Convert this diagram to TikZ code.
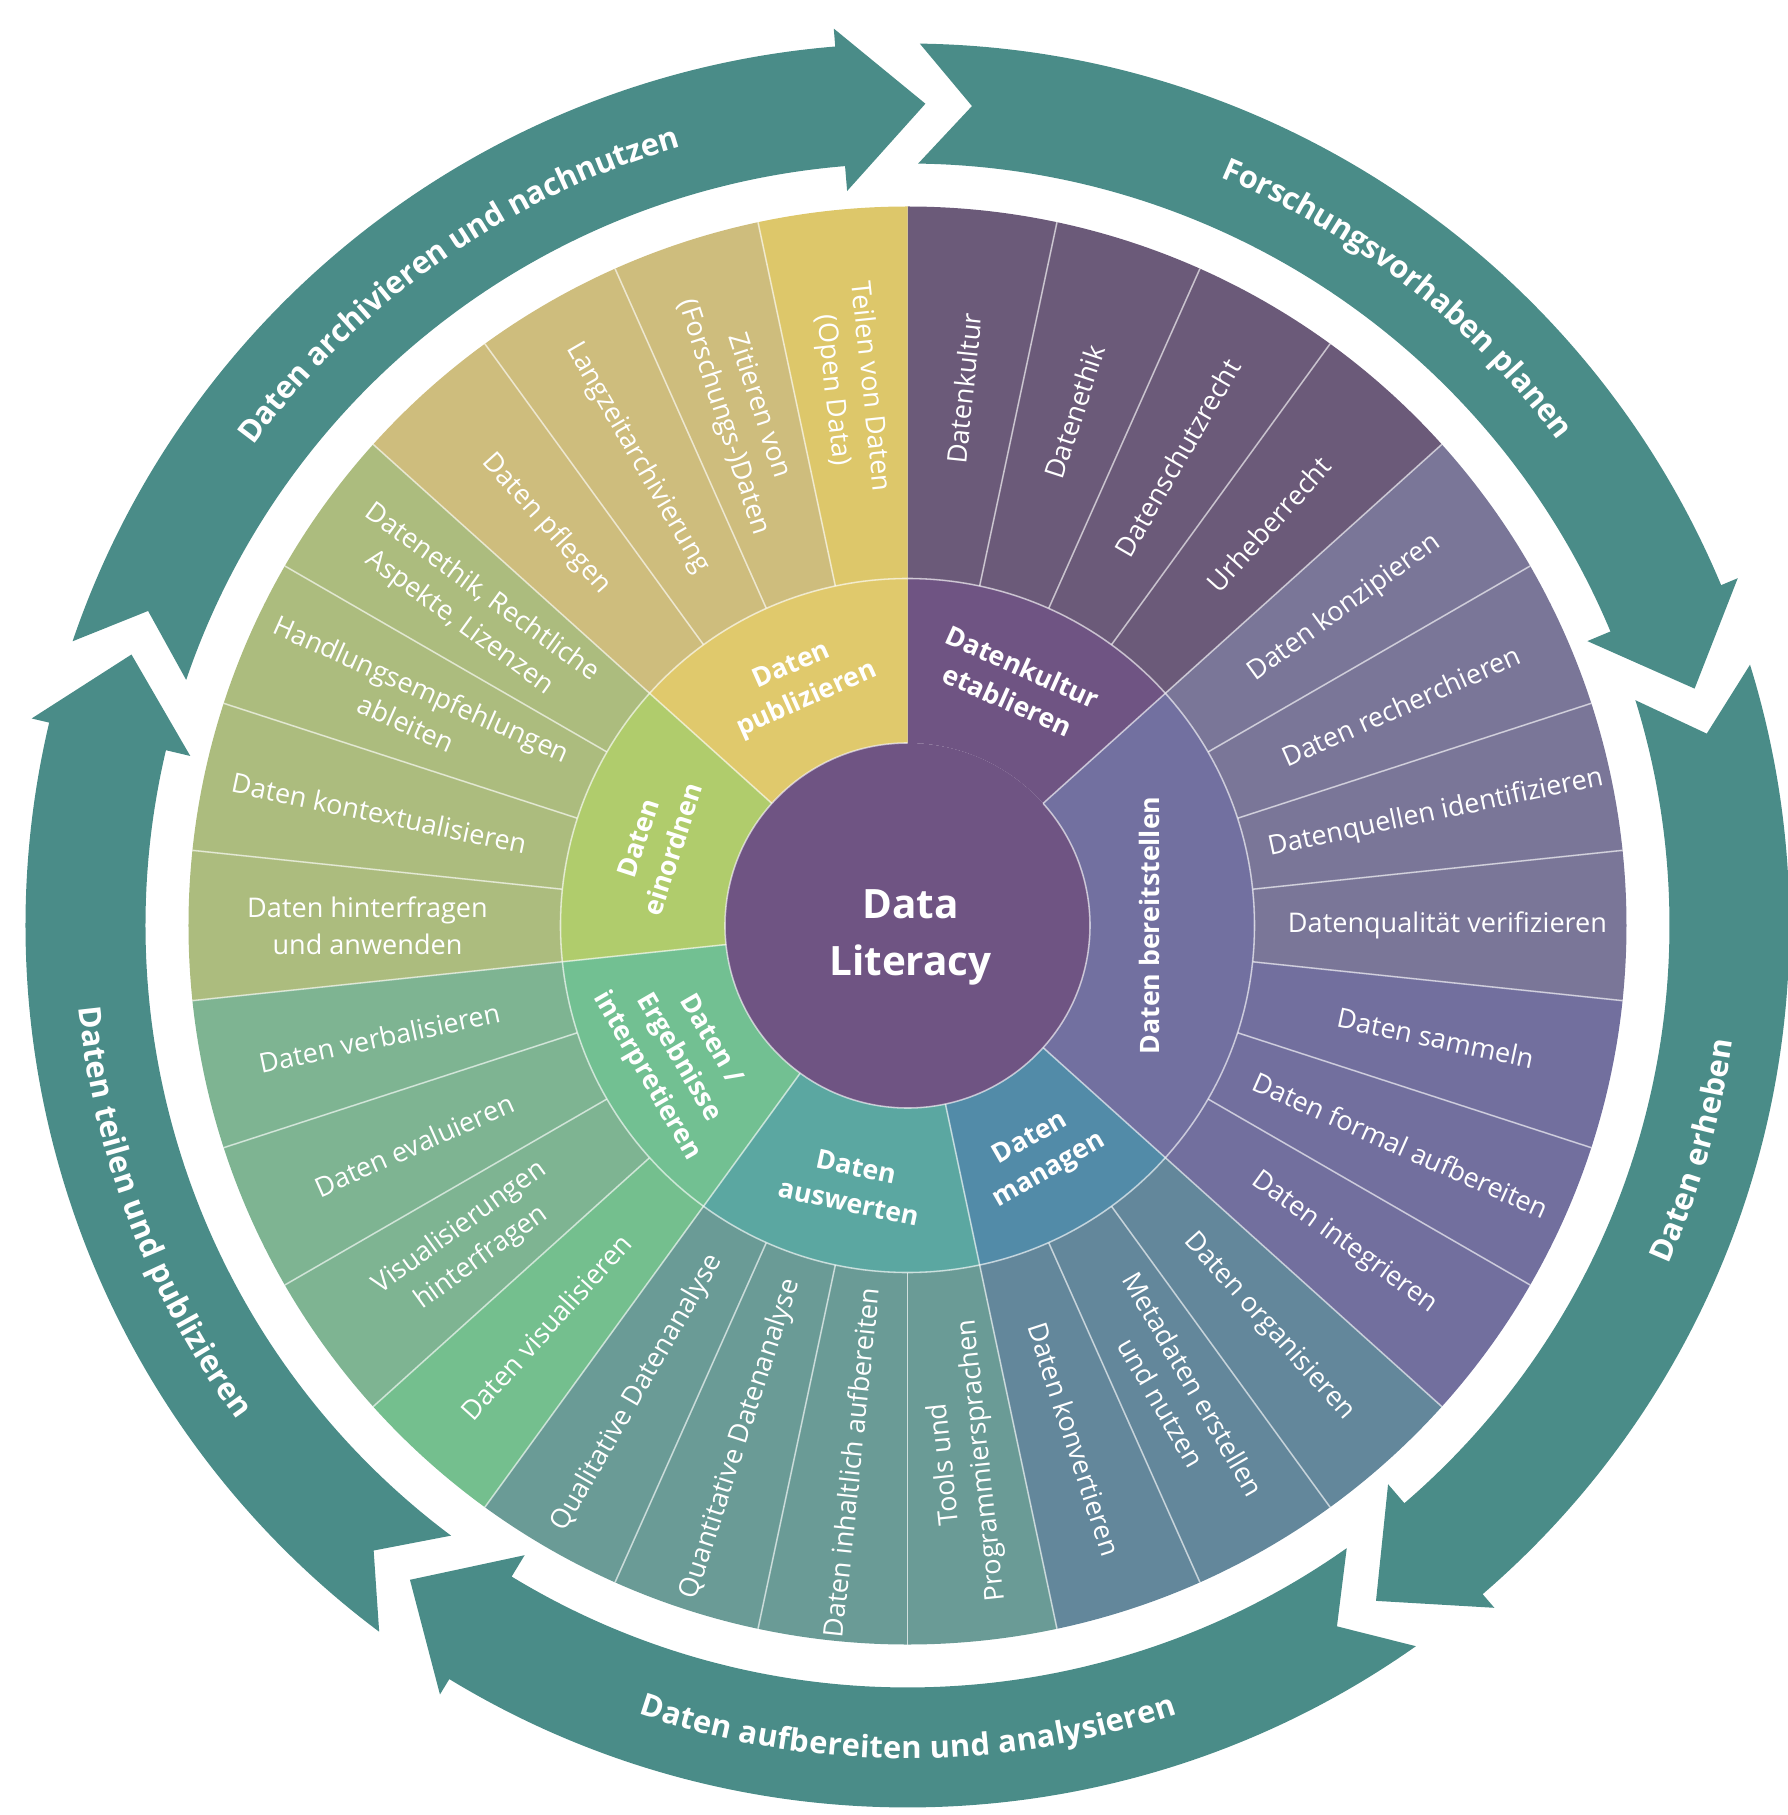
\documentclass[tikz,border=0pt]{standalone}
\usepackage{fontspec}
\setmainfont{Open Sans}
\usetikzlibrary{decorations.text}
\definecolor{kultur}{HTML}{6F5483}
\definecolor{kulturI}{HTML}{6B5A79}
\definecolor{bereit}{HTML}{7270A0}
\definecolor{bereitI}{HTML}{7A7698}
\definecolor{bereitII}{HTML}{726F9E}
\definecolor{manag}{HTML}{528BA8}
\definecolor{managI}{HTML}{63879B}
\definecolor{ausw}{HTML}{5BA7A1}
\definecolor{auswI}{HTML}{6A9B96}
\definecolor{interp}{HTML}{72C092}
\definecolor{interpI}{HTML}{7EB492}
\definecolor{interpV}{HTML}{74BF8E}
\definecolor{einord}{HTML}{B0CC6C}
\definecolor{einordI}{HTML}{ACBC7E}
\definecolor{publ}{HTML}{E0C96C}
\definecolor{publI}{HTML}{CEBD7D}
\definecolor{publV}{HTML}{DDC76A}
\definecolor{pfeilgruen}{HTML}{4A8C88}
\tikzset{
  eintrag/.style={text=white,align=center,inner sep=0pt,font=\fontsize{7.7}{10.6}\selectfont},
  bereich/.style={text=white,align=center,inner sep=0pt,font=\bfseries\fontsize{7.6}{10.4}\selectfont},
  mitte/.style={text=white,align=center,inner sep=0pt,font=\bfseries\fontsize{11.5}{16}\selectfont},
  fuge/.style={draw=white,draw opacity=.6,line width=.45pt},
  pfeil/.style={fill=pfeilgruen},
  bogentext/.style={decorate,decoration={text along path,text={|\pfeilfont|#1},
    text align=center,text color=white,raise=-3.1pt}},
}
\newcommand\pfeilfont{\bfseries\fontsize{8.8}{10}\selectfont}

\begin{document}
\begin{tikzpicture}[x=0.01cm,y=0.01cm]
  \useasboundingbox (-907.5,-889.5) rectangle (880.5,925.5);
  % Pfeilring
  \foreach \T in {89.2,17.2,-54.8,-126.8,-198.8} {
    \fill[pfeil] (\T:882) arc[start angle=\T,end angle=\T-66.5,radius=882]
      -- ({\T-66.5}:900) -- ({\T-72.45}:822) -- ({\T-66.5}:737) -- ({\T-66.5}:762)
      arc[start angle=\T-66.5,end angle=\T,radius=762] -- ({\T-3.7}:822) -- cycle;
  }
  \path[bogentext={Forschungsvorhaben planen}] (97:822) arc[start angle=97,end angle=7,radius=822];
  \path[bogentext={Daten erheben}] (-61:822) arc[start angle=-61,end angle=29,radius=822];
  \path[bogentext={Daten aufbereiten und analysieren}] (-135:822) arc[start angle=-135,end angle=-45,radius=822];
  \path[bogentext={Daten teilen und publizieren}] (-204:822) arc[start angle=-204,end angle=-114,radius=822];
  \path[bogentext={Daten archivieren und nachnutzen}] (170:822) arc[start angle=170,end angle=80,radius=822];
  % Teilkompetenzen
  \foreach \i/\farbe/\txt in {0/kulturI/Datenkultur, 1/kulturI/Datenethik, 2/kulturI/Datenschutzrecht,
      3/kulturI/Urheberrecht, 4/bereitI/Daten konzipieren, 5/bereitI/Daten recherchieren,
      6/bereitI/Datenquellen identifizieren, 7/bereitI/Datenqualität verifizieren,
      8/bereitII/Daten sammeln, 9/bereitII/Daten formal aufbereiten, 10/bereitII/Daten integrieren,
      11/managI/Daten organisieren, 12/managI/{Metadaten erstellen\\und nutzen},
      13/managI/Daten konvertieren, 14/auswI/{Tools und\\Programmiersprachen},
      15/auswI/Daten inhaltlich aufbereiten, 16/auswI/Quantitative Datenanalyse,
      17/auswI/Qualitative Datenanalyse, 18/interpV/Daten visualisieren,
      19/interpI/{Visualisierungen\\hinterfragen}, 20/interpI/Daten evaluieren,
      21/interpI/Daten verbalisieren, 22/einordI/{Daten hinterfragen\\und anwenden},
      23/einordI/Daten kontextualisieren, 24/einordI/{Handlungsempfehlungen\\ableiten},
      25/einordI/{Datenethik, Rechtliche\\Aspekte, Lizenzen}, 26/publI/Daten pflegen,
      27/publI/Langzeitarchivierung, 28/publI/{Zitieren von\\(Forschungs-)Daten},
      29/publV/{Teilen von Daten\\(Open Data)}} {
    \pgfmathsetmacro\a{84-12*\i}
    \pgfmathsetmacro\rot{\i<14 ? \a : \a+180}
    \fill[\farbe] ({\a+6}:347) arc[start angle=\a+6,end angle=\a-6,radius=347]
      -- ({\a-6}:719) arc[start angle=\a-6,end angle=\a+6,radius=719] -- cycle;
    \node[eintrag,rotate=\rot] (e\i) at (\a:540) {\txt};
  }
  \foreach \i in {1,...,29}
    \draw[fuge] ({90-12*\i}:347) -- ({90-12*\i}:719);
  % Kompetenzbereiche
  \foreach \s/\e/\farbe/\txt/\rot/\r [count=\k] in {90/42/kultur/{Datenkultur\\etablieren}/-24/265,
      42/-42/bereit/{Daten bereitstellen}/90/242, -42/-78/manag/{Daten\\managen}/30/265,
      -78/-126/ausw/{Daten\\auswerten}/-12/265,
      -126/-174/interp/{Daten \slash\\Ergebnisse\\interpretieren}/-60/265,
      -174/-222/einord/{Daten\\einordnen}/72/265, 138/90/publ/{Daten\\publizieren}/24/265} {
    \fill[\farbe] (\s:182.5) arc[start angle=\s,end angle=\e,radius=182.5]
      -- (\e:347) arc[start angle=\e,end angle=\s,radius=347] -- cycle;
    \pgfmathsetmacro\m{(\s+\e)/2}
    \node[bereich,rotate=\rot] (b\k) at (\m:\r) {\txt};
  }
  \foreach \w in {42,-42,-78,-126,-174,138}
    \draw[fuge] (\w:182.5) -- (\w:347);
  \draw[fuge] (0,0) circle[radius=347];
  % Mitte
  \fill[kultur] (0,0) circle[radius=182.5];
  \draw[fuge] (42:182.5) arc[start angle=42,end angle=-270,radius=182.5];
  \node[mitte] (dl) at (3,-12) {Data\\Literacy};
\end{tikzpicture}
\end{document}
